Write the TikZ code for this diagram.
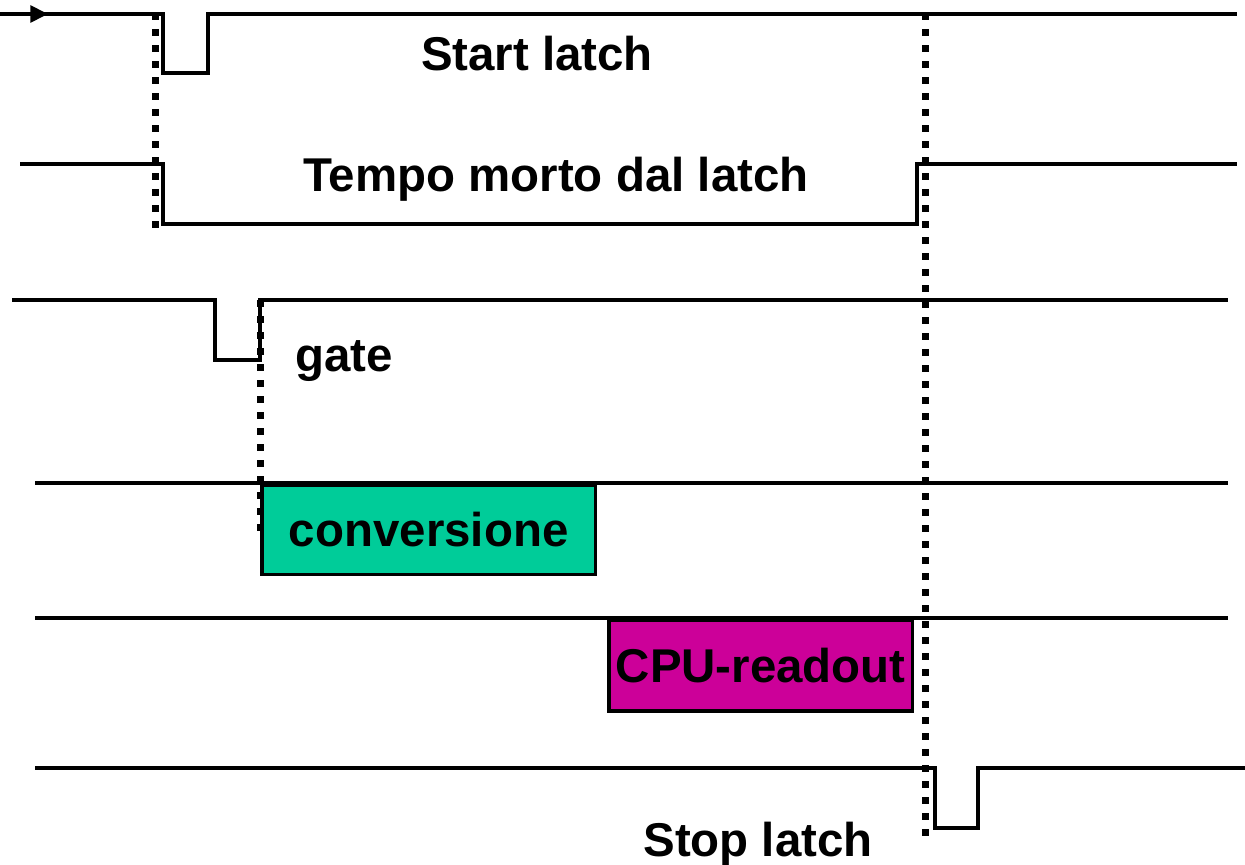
\documentclass[tikz,border=0pt]{standalone}
\usepackage{fontspec}
\setmainfont{Liberation Sans}
\usepackage{xcolor}
\usetikzlibrary{arrows.meta, positioning}
\definecolor{convgreen}{RGB}{0,204,153}
\definecolor{cpumagenta}{RGB}{204,0,153}

\begin{document}
\begin{tikzpicture}[
  x=0.02cm, y=-0.02cm,
  font=\fontsize{27}{32}\selectfont\bfseries,
  wave/.style={line width=2pt},
  phase/.style={draw, line width=2pt, inner sep=0pt, anchor=north west}
]
  \useasboundingbox (0,0) rectangle (1245,865);

  \draw[wave] (0,14) -- (163,14) -- (163,73) -- (208,73) -- (208,14) -- (1237,14);
  \draw[wave, -{Triangle[length=10pt, width=9.5pt]}] (0,14) -- (48,14);
  \draw[wave] (20,164) -- (163,164) -- (163,224) -- (917,224) -- (917,164) -- (1237,164);
  \draw[wave] (12,300) -- (215,300) -- (215,360) -- (260,360) -- (260,300) -- (1228,300);
  \draw[wave] (35,483) -- (1228,483);
  \draw[wave] (35,618) -- (1228,618);
  \draw[wave] (35,768) -- (935,768) -- (935,828) -- (978,828) -- (978,768) -- (1245,768);

  \node[phase, fill=convgreen, minimum width=6.68cm, minimum height=1.8cm] (conv) at (260,483) {conversione};
  \node[phase, fill=cpumagenta, minimum width=6.08cm, minimum height=1.82cm] (cpu) at (607,618) {CPU-readout};

  \node (start) at (537,54) {Start latch};
  \node (dead) at (556,179) {Tempo morto dal latch};
  \node (gate) at (344,361) {gate};
  \node (stop) at (758,844) {Stop latch};

  \foreach \y in {13,29,...,221}
    \fill (151.5,\y) rectangle ++(7,7);
  \foreach \y in {300,316,...,524}
    \fill (256.5,\y) rectangle ++(7,7);
  \foreach \y in {13,29,...,829}
    \fill (921.5,\y) rectangle ++(7,7);
\end{tikzpicture}
\end{document}
